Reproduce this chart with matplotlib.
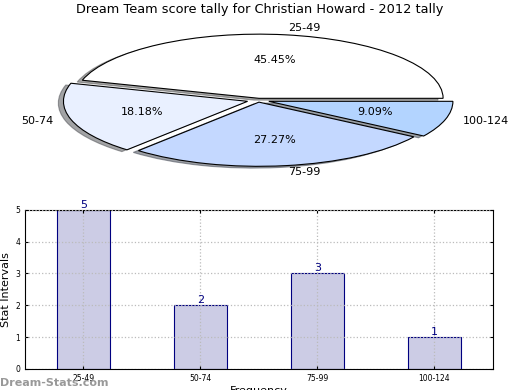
import numpy as np
import matplotlib
matplotlib.use('Agg')
import matplotlib.pyplot as plt

# score intervals and how many games fell in each
intervals = ['25-49', '50-74', '75-99', '100-124']
counts = [5, 2, 3, 1]
pie_colors = ['#ffffff', '#e9f0ff', '#c4d8ff', '#b3d4ff']
explode = [0.03, 0.06, 0.03, 0.06]

fig = plt.figure(figsize=(5.2, 3.9), dpi=100)

# pie (squashed into an ellipse, like the original)
ax1 = fig.add_axes([0.107, 0.562, 0.779, 0.362])
wedges, texts, autotexts = ax1.pie(counts, labels=intervals, colors=pie_colors,
                                   explode=explode, autopct='%1.2f%%', shadow=True,
                                   startangle=0, labeldistance=1.1, pctdistance=0.6,
                                   wedgeprops={'edgecolor': 'black', 'linewidth': 0.8},
                                   textprops={'fontsize': 8})
ax1.set_aspect('auto')
ax1.set_xlim(-1.1, 1.1)
ax1.set_ylim(-1.1, 1.1)
fig.text(0.5, 0.975, 'Dream Team score tally for Christian Howard - 2012 tally',
         ha='center', va='center', fontsize=9.3)

# bar chart
ax2 = fig.add_axes([0.048, 0.054, 0.9, 0.408])
x = np.arange(len(intervals))
ax2.bar(x, counts, width=0.45, color='#ccccE5', edgecolor='navy', linewidth=0.8, zorder=2)
for xi, c in zip(x, counts):
    ax2.text(xi, c, str(c), ha='center', va='bottom', color='navy', fontsize=8)
ax2.set_xlim(-0.5, 3.5)
ax2.set_ylim(0, 5)
ax2.set_xticks(x)
ax2.set_xticklabels(intervals, fontsize=5.5)
ax2.set_yticks(range(6))
ax2.tick_params(axis='y', labelsize=5.5)
ax2.tick_params(direction='in', length=2, top=True, right=True)
ax2.grid(True, linestyle=':', color='#bbbbbb', linewidth=0.9, zorder=0)
ax2.set_axisbelow(False)
ax2.set_ylabel('Stat Intervals', fontsize=8, labelpad=3)
ax2.set_xlabel('Frequency', fontsize=8, labelpad=2)

fig.text(0.0, 0.005, 'Dream-Stats.com', fontsize=8, color='#999999',
         fontweight='bold', ha='left', va='bottom')

fig.savefig('out.png', dpi=100)
